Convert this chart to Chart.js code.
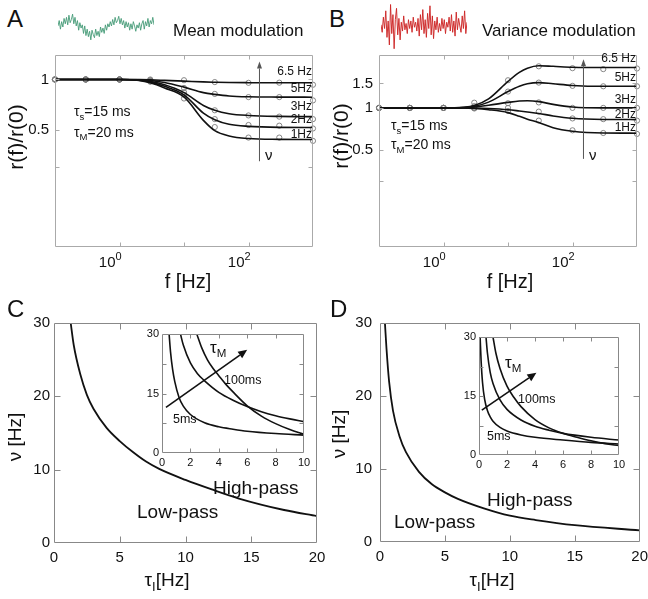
<!DOCTYPE html>
<html><head><meta charset="utf-8">
<script src="https://cdn.jsdelivr.net/npm/chart.js@4/dist/chart.umd.min.js"></script>
<style>
html,body{margin:0;padding:0;background:#fff}
#page{position:relative;width:648px;height:599px;overflow:hidden;background:#fff;font-family:"Liberation Sans",Arial,Helvetica,sans-serif;color:#111}
canvas{position:absolute}
.t{position:absolute;white-space:nowrap;line-height:1}
.sub{font-size:0.68em;position:relative;top:0.38em}
</style></head><body>
<div id="page">
<canvas id="nA" width="96" height="30" style="left:58px;top:12px"></canvas>
<canvas id="nB" width="86" height="48" style="left:381px;top:2px"></canvas>
<canvas id="cA" width="324" height="260" style="left:0px;top:40px"></canvas>
<canvas id="cB" width="324" height="260" style="left:324px;top:40px"></canvas>
<canvas id="cD" width="330" height="294" style="left:324px;top:305px"></canvas>
<canvas id="cC" width="335" height="294" style="left:0px;top:305px"></canvas>
<canvas id="iC" width="180" height="148" style="left:138px;top:324px"></canvas>
<canvas id="iD" width="180" height="148" style="left:455px;top:327px"></canvas>
</div>
<script>
// ---------------- DATA ----------------
// Panel A : mean modulation, r(f)/r(0) vs f [Hz]
const fA = [0.1,0.3,1,2,3,5,10,20,30,50,100,300,1000];
const meanNu65 = [1,1,1,0.998,0.995,0.988,0.978,0.967,0.963,0.959,0.957,0.956,0.956];
const meanNu5  = [1,1,1,0.996,0.987,0.96,0.9,0.835,0.815,0.797,0.788,0.785,0.784];
const meanNu3  = [1,1,1,0.992,0.973,0.93,0.835,0.70,0.655,0.625,0.61,0.602,0.60];
const meanNu2  = [1,1,1,0.99,0.964,0.91,0.81,0.63,0.575,0.54,0.525,0.518,0.517];
const meanNu1  = [1,1,1,0.988,0.956,0.89,0.787,0.57,0.495,0.46,0.444,0.439,0.438];
// simulation points (circles)
const fSim = [0.1,0.3,1,3,10,30,100,300,1000];
const meanSim65 = [1,1,1,1.0,0.99,0.965,0.955,0.957,0.93];
const meanSim5  = [1,1,1,0.99,0.89,0.82,0.785,0.785,0.75];
const meanSim3  = [1,1,1,0.985,0.84,0.655,0.61,0.60,0.58];
const meanSim2  = [1,1,1,0.975,0.81,0.58,0.535,0.53,0.51];
const meanSim1  = [1,1,1,0.97,0.77,0.52,0.45,0.45,0.43];
// Panel B : variance modulation
const fB = [0.1,0.3,1,2,3,5,10,15,20,30,50,100,300,1000];
const varNu65 = [1,1,1,1.01,1.04,1.16,1.55,1.8,1.93,2.01,1.99,1.96,1.95,1.95];
const varNu5  = [1,1,1,1.005,1.025,1.1,1.31,1.43,1.49,1.52,1.49,1.45,1.43,1.43];
const varNu3  = [1,1,1,1.003,1.015,1.045,1.095,1.12,1.125,1.11,1.06,1.015,1.0,1.0];
const varNu2  = [1,1,1,1,0.998,0.99,0.97,0.95,0.935,0.912,0.875,0.842,0.826,0.824];
const varNu1  = [1,1,1,0.998,0.99,0.97,0.925,0.87,0.83,0.785,0.72,0.68,0.66,0.658];
const varSim65 = [1,1,1,1.09,1.58,1.99,1.93,1.9,1.92];
const varSim5  = [1,1,1,1.03,1.31,1.52,1.44,1.43,1.43];
const varSim3  = [1,1,1,1.0,1.08,1.095,1.0,1.0,1.0];
const varSim2  = [1,1,1,1.0,1.0,0.94,0.84,0.83,0.81];
const varSim1  = [1,1,1,0.99,0.95,0.81,0.69,0.66,0.65];
const nuLabels = ['6.5 Hz','5Hz','3Hz','2Hz','1Hz'];
// Panel C : boundary low/high-pass (mean modulation)
const tauC = [1.27,1.5,2,2.5,3,4,5,6,7,8,10,12,14,17.5,20];
const nuC  = [30,27,23,20.2,18.3,15.7,13.9,12.4,11.1,10.1,8.6,7.3,6.1,4.5,3.66];
// inset C (tau_M = 5ms, intermediate, 100ms)
const tauC5   = [0.5,0.6,0.75,0.9,1.2,1.5,2,3,4,5,6,8,10];
const nuC5    = [30,25.5,21,18,14,11.8,9.7,7.6,6.6,6.0,5.5,4.9,4.5];
const tauCmid = [1.3,1.5,2,2.5,3,4,5,6,7,8,9,10];
const nuCmid  = [30,27.2,22.7,20,18.2,15.3,13.3,11.7,10.4,9.4,8.6,7.9];
const tauC100 = [2.45,2.8,3.2,3.6,4,4.5,5,6,7,8,9,10];
const nuC100  = [30,26.5,23.5,21.3,19.5,17.3,15.4,11.9,9.3,7.4,5.9,4.7];
// Panel D : boundary (variance modulation)
const tauD = [0.38,0.5,0.7,1,1.5,2,3,4,5,6,8,10,12,15,20];
const nuD  = [30,26.5,22,18,14.5,12.3,9.6,7.9,6.8,5.9,4.6,3.6,3.0,2.3,1.6];
const tauD5   = [0.08,0.15,0.25,0.4,0.6,0.8,1,1.5,2,3,4,6,8,10];
const nuD5    = [30,24,18.5,14.2,11.3,9.7,8.6,7.0,6.1,5.1,4.5,3.8,3.2,2.8];
const tauDmid = [0.5,0.6,0.8,1,1.5,2,3,4,5,6,8,10];
const nuDmid  = [30,26,21,18.2,14,11.6,8.9,7.3,6.3,5.5,4.5,3.8];
const tauD100 = [1,1.2,1.5,2,2.5,3,4,5,6,7,8,9,10];
const nuD100  = [30,26,22,17.5,14.6,12.3,9.0,6.9,5.5,4.5,3.6,2.9,2.4];
// tick values / labels
const ticksMainX = [0,5,10,15,20];
const ticksMainY = [0,10,20,30];
const ticksInsetX = [0,2,4,6,8,10];
const ticksInsetY = [0,15,30];
// input traces (sketches of the stimulus)
const noiseA = [0.1,0.6,-0.2,0.5,0.0,0.8,0.3,0.9,0.2,1.1,0.4,0.7,1.2,0.3,0.9,0.1,0.6,-0.3,0.4,-0.1,0.2,-0.6,0.1,-0.8,-0.2,-0.9,-0.4,-1.2,-0.3,-0.7,-1.0,-0.2,-0.8,-0.4,-0.9,0.0,-0.5,-0.1,-0.6,0.2,-0.3,0.3,0.0,0.5,0.1,0.7,0.2,0.9,0.4,0.6,1.0,0.3,0.8,0.2,0.6,-0.1,0.5,0.0,0.4,-0.3,0.3,-0.2,0.5,0.1,-0.4,0.2,-0.1,0.4,-0.3,0.3,0.6,-0.2,0.5,0.1,0.8,0.0,0.6,0.3,0.9,0.2];
const noiseB = [0.1,-0.5,0.7,-0.2,1.2,-0.9,0.4,-1.5,1.7,-0.6,0.9,-1.8,0.5,1.4,-0.7,0.6,-1.1,0.3,-0.4,0.8,-0.3,0.2,-0.6,0.5,-0.2,0.4,-0.5,0.7,-0.1,0.3,-0.4,0.6,-0.8,0.9,-0.3,1.3,-0.6,0.5,-0.9,1.0,-0.2,1.6,-0.7,0.8,-1.0,0.4,-0.3,0.7,-0.5,0.2,-0.4,0.6,-0.2,0.5,-0.6,0.3,-0.1,0.7,-0.4,0.9,-0.5,0.4,-0.8,1.1,-0.3,0.6,0.0,-0.5,0.8,-0.2,1.2,-0.6,0.3];

// ---------------- HELPERS ----------------
const FONT = '"Liberation Sans", Arial, Helvetica, sans-serif';
const pts = (xs, ys) => xs.map((x,i)=>({x, y:ys[i]}));
const lineDS = (xs, ys, w) => ({data:pts(xs,ys), borderColor:'#111', borderWidth:w||1.6, pointRadius:0, fill:false, cubicInterpolationMode:'monotone'});
const circDS = (xs, ys) => ({data:pts(xs,ys), showLine:false, pointRadius:2.6, pointBorderWidth:0.9, pointBorderColor:'#7a7a7a', pointBackgroundColor:'rgba(0,0,0,0)', clip:false});

function mkScale(o){
  return {
    type:o.type, min:o.min, max:o.max,
    grid:{display:false, drawTicks:false}, border:{display:false},
    ticks:{display:o.show!==false, font:{family:FONT,size:o.fs||14}, color:'#111', padding:o.pad||5,
      autoSkip:false, maxRotation:0, minRotation:0, callback:(v)=> o.fmt ? o.fmt(v) : String(v)},
    afterBuildTicks:(s)=>{ s.ticks = (o.ticks||[]).map(v=>({value:v})); },
    afterFit:(s)=>{ if(o.axis==='x') s.height=o.size; else s.width=o.size; }
  };
}

const framePlugin = {
  id:'frame',
  beforeDraw(chart, args, opts){
    if(!opts.bg) return;
    const a = chart.chartArea, ctx = chart.ctx;
    ctx.save(); ctx.fillStyle = opts.bg; ctx.fillRect(a.left, a.top, a.width, a.height); ctx.restore();
  },
  afterDraw(chart, args, opts){
    if(!opts.color) return;
    const {ctx, chartArea:a, scales} = chart;
    ctx.save();
    ctx.strokeStyle = opts.color; ctx.lineWidth = 1;
    const L = opts.len || 4;
    const l = Math.round(a.left)+0.5, r = Math.round(a.right)-0.5, t = Math.round(a.top)+0.5, b = Math.round(a.bottom)-0.5;
    ctx.beginPath(); ctx.rect(l, t, r-l, b-t); ctx.stroke();
    ctx.beginPath();
    (opts.xTicks||[]).forEach(v=>{ const x = Math.round(scales.x.getPixelForValue(v))+0.5; ctx.moveTo(x,b); ctx.lineTo(x,b-L); ctx.moveTo(x,t); ctx.lineTo(x,t+L); });
    (opts.yTicks||[]).forEach(v=>{ const y = Math.round(scales.y.getPixelForValue(v))+0.5; ctx.moveTo(l,y); ctx.lineTo(l+L,y); ctx.moveTo(r,y); ctx.lineTo(r-L,y); });
    ctx.stroke();
    // power-of-ten labels
    (opts.pow||[]).forEach(p=>{
      const x = scales.x.getPixelForValue(p.v), base = a.bottom + p.dy;
      ctx.fillStyle = '#111'; ctx.textBaseline = 'alphabetic';
      ctx.font = p.fs + 'px ' + FONT; ctx.textAlign = 'right'; ctx.fillText('10', x-4, base);
      ctx.font = Math.round(p.fs*0.75) + 'px ' + FONT; ctx.textAlign = 'left'; ctx.fillText(p.e, x-4, base - p.fs*0.5);
    });
    ctx.restore();
  }
};

const arrowPlugin = {
  id:'arrows',
  afterDatasetsDraw(chart, args, opts){
    const {ctx, scales:{x, y}} = chart;
    (opts.list||[]).forEach(a=>{
      const x1=x.getPixelForValue(a.x1), y1=y.getPixelForValue(a.y1), x2=x.getPixelForValue(a.x2), y2=y.getPixelForValue(a.y2);
      const ang = Math.atan2(y2-y1, x2-x1);
      const hx = x2 - a.head*Math.cos(ang), hy = y2 - a.head*Math.sin(ang);
      ctx.save(); ctx.strokeStyle=a.color; ctx.fillStyle=a.color; ctx.lineWidth=a.w;
      ctx.beginPath(); ctx.moveTo(x1,y1); ctx.lineTo(hx,hy); ctx.stroke();
      ctx.beginPath(); ctx.moveTo(x2,y2);
      ctx.lineTo(hx + a.hw*Math.sin(ang), hy - a.hw*Math.cos(ang));
      ctx.lineTo(hx - a.hw*Math.sin(ang), hy + a.hw*Math.cos(ang));
      ctx.closePath(); ctx.fill(); ctx.restore();
    });
  }
};

const base = {responsive:false, animation:false, events:[], maintainAspectRatio:false};
const noLegend = {legend:{display:false}, tooltip:{enabled:false}};

function makeChart(id, datasets, opt){
  return new Chart(document.getElementById(id), {
    type:'line',
    data:{datasets},
    options:Object.assign({}, base, {
      layout:{padding:opt.padding},
      scales:{x:opt.x, y:opt.y},
      plugins:Object.assign({}, noLegend, {frame:opt.frame||{}, arrows:opt.arrows||{}})
    }),
    plugins:[framePlugin, arrowPlugin]
  });
}

// ---------------- PANEL A ----------------
const lbl = m => v => (m[v] !== undefined ? m[v] : '');
makeChart('cA', [
  lineDS(fA, meanNu65), lineDS(fA, meanNu5), lineDS(fA, meanNu3), lineDS(fA, meanNu2), lineDS(fA, meanNu1),
  circDS(fSim, meanSim65), circDS(fSim, meanSim5), circDS(fSim, meanSim3), circDS(fSim, meanSim2), circDS(fSim, meanSim1)
], {
  padding:{left:0, top:12, right:11, bottom:0},
  x: mkScale({type:'logarithmic', min:0.1, max:1000, ticks:[1,100], show:false, axis:'x', size:53}),
  y: mkScale({type:'logarithmic', min:0.1, max:1.4, ticks:[0.5,1], fmt:lbl({0.5:'0.5',1:'1'}), fs:15, pad:6, axis:'y', size:55}),
  frame:{color:'#aaa', len:4, xTicks:[1,10,100], yTicks:[0.3,0.5,1], pow:[{v:1,e:'0',fs:15,dy:20},{v:100,e:'2',fs:15,dy:20}]},
  arrows:{list:[{x1:148, y1:0.325, x2:148, y2:1.28, color:'#555', w:1, head:7, hw:2.5}]}
});

// ---------------- PANEL B ----------------
makeChart('cB', [
  lineDS(fB, varNu65), lineDS(fB, varNu5), lineDS(fB, varNu3), lineDS(fB, varNu2), lineDS(fB, varNu1),
  circDS(fSim, varSim65), circDS(fSim, varSim5), circDS(fSim, varSim3), circDS(fSim, varSim2), circDS(fSim, varSim1)
], {
  padding:{left:0, top:12, right:11, bottom:0},
  x: mkScale({type:'logarithmic', min:0.1, max:1000, ticks:[1,100], show:false, axis:'x', size:53}),
  y: mkScale({type:'logarithmic', min:0.1, max:2.4, ticks:[0.5,1,1.5], fmt:lbl({0.5:'0.5',1:'1',1.5:'1.5'}), fs:15, pad:6, axis:'y', size:55}),
  frame:{color:'#aaa', len:4, xTicks:[1,10,100], yTicks:[0.3,0.5,1,1.5], pow:[{v:1,e:'0',fs:15,dy:20},{v:100,e:'2',fs:15,dy:20}]},
  arrows:{list:[{x1:148, y1:0.43, x2:148, y2:2.24, color:'#555', w:1, head:7, hw:2.5}]}
});

// ---------------- PANEL C ----------------
makeChart('cC', [ lineDS(tauC, nuC, 1.8) ], {
  padding:{left:0, top:18, right:18, bottom:0},
  x: mkScale({type:'linear', min:0, max:20, ticks:ticksMainX, fs:15, pad:6, axis:'x', size:56}),
  y: mkScale({type:'linear', min:0, max:30, ticks:ticksMainY, fs:15, pad:4, axis:'y', size:54}),
  frame:{color:'#888', len:6, xTicks:[5,10,15], yTicks:[10,20]}
});
makeChart('iC', [ lineDS(tauC5, nuC5, 1.6), lineDS(tauCmid, nuCmid, 1.6), lineDS(tauC100, nuC100, 1.6) ], {
  padding:{left:0, top:10, right:14, bottom:0},
  x: mkScale({type:'linear', min:0, max:10, ticks:ticksInsetX, fs:11, pad:3, axis:'x', size:19}),
  y: mkScale({type:'linear', min:0, max:30, ticks:ticksInsetY, fs:11, pad:3, axis:'y', size:24}),
  frame:{color:'#888', len:4, bg:'#fff', xTicks:[2,4,6,8], yTicks:[7.5,15,22.5]},
  arrows:{list:[{x1:0.28, y1:11.5, x2:6.0, y2:26, color:'#111', w:1.6, head:9, hw:4}]}
});

// ---------------- PANEL D ----------------
makeChart('cD', [ lineDS(tauD, nuD, 1.8) ], {
  padding:{left:0, top:18, right:13, bottom:0},
  x: mkScale({type:'linear', min:0, max:20, ticks:ticksMainX, fs:15, pad:6, axis:'x', size:57}),
  y: mkScale({type:'linear', min:0, max:30, ticks:ticksMainY, fs:15, pad:8, axis:'y', size:56}),
  frame:{color:'#888', len:6, xTicks:[5,10,15], yTicks:[10,20]}
});
makeChart('iD', [ lineDS(tauD5, nuD5, 1.6), lineDS(tauDmid, nuDmid, 1.6), lineDS(tauD100, nuD100, 1.6) ], {
  padding:{left:0, top:10, right:16, bottom:0},
  x: mkScale({type:'linear', min:0, max:10, ticks:ticksInsetX, fs:11, pad:3, axis:'x', size:20}),
  y: mkScale({type:'linear', min:0, max:30, ticks:ticksInsetY, fs:11, pad:3, axis:'y', size:24}),
  frame:{color:'#888', len:4, bg:'#fff', xTicks:[2,4,6,8], yTicks:[7.5,15,22.5]},
  arrows:{list:[{x1:0.2, y1:11.4, x2:4.1, y2:20.9, color:'#111', w:1.6, head:9, hw:4}]}
});

// ---------------- STIMULUS TRACES ----------------
function trace(id, vals, color, lim){
  new Chart(document.getElementById(id), {
    type:'line',
    data:{labels:vals.map((_,i)=>i), datasets:[{data:vals, borderColor:color, borderWidth:1, pointRadius:0, tension:0}]},
    options:Object.assign({}, base, {layout:{padding:0}, plugins:noLegend,
      scales:{x:{display:false}, y:{display:false, min:-lim, max:lim}}})
  });
}
trace('nA', noiseA, 'rgba(70,155,120,0.9)', 1.4);
trace('nB', noiseB, 'rgba(205,40,40,0.95)', 1.9);

// ---------------- TEXT ----------------
const page = document.getElementById('page');
function T(html, left, baseline, fs, extra){
  const d = document.createElement('div'); d.className='t'; d.innerHTML = html;
  d.style.fontSize = fs+'px'; d.style.left = left+'px'; d.style.top = (baseline - 0.8465*fs)+'px';
  if(extra) Object.assign(d.style, extra);
  page.appendChild(d); return d;
}
function TR(html, right, baseline, fs){ return T(html, right-120, baseline, fs, {width:'120px', textAlign:'right'}); }
function TC(html, cx, cy, fs, rot){
  const d = document.createElement('div'); d.className='t'; d.innerHTML = html;
  d.style.fontSize = fs+'px'; d.style.left = cx+'px'; d.style.top = cy+'px';
  d.style.transform = 'translate(-50%,-50%)' + (rot ? ' rotate(-90deg)' : '');
  page.appendChild(d); return d;
}
// panel letters and titles
T('A', 7, 27, 24); T('B', 329, 27, 24); T('C', 7, 317, 24); T('D', 330, 317, 24);
T('Mean modulation', 173, 36, 17); T('Variance modulation', 482, 36, 17);
// axis titles
TC('r(f)/r(0)', 15, 137, 21, true); TC('r(f)/r(0)', 340, 136, 21, true);
TC('f [Hz]', 188, 281, 20); TC('f [Hz]', 510, 281, 20);
TC('ν [Hz]', 14, 437, 19, true); TC('ν [Hz]', 338, 434, 19, true);
TC('τ<span class="sub">I</span>[Hz]', 167, 579, 19); TC('τ<span class="sub">I</span>[Hz]', 492, 579, 19);
// curve labels
const baseA = [75, 91.7, 110, 123, 137.7], baseB = [61.7, 81, 103.3, 118.3, 131];
nuLabels.forEach((s,i)=>{ TR(s, 312, baseA[i], 12); TR(s, 636, baseB[i], 12); });
T('τ<span class="sub">s</span>=15 ms', 74, 116, 14); T('τ<span class="sub">M</span>=20 ms', 74, 136.5, 14);
T('τ<span class="sub">s</span>=15 ms', 391, 130, 14); T('τ<span class="sub">M</span>=20 ms', 391, 149, 14);
T('ν', 265, 160, 15); T('ν', 589, 160, 15);
// C / D annotations
T('High-pass', 213, 494, 19); T('Low-pass', 137, 518, 19);
T('High-pass', 487, 506, 19); T('Low-pass', 394, 528, 19);
T('τ<span class="sub">M</span>', 210, 353, 17); T('100ms', 224, 385, 12.5); T('5ms', 173, 424, 12.5);
T('τ<span class="sub">M</span>', 505, 368, 17); T('100ms', 518, 404, 12.5); T('5ms', 487, 441, 12.5);
</script>
</body></html>
